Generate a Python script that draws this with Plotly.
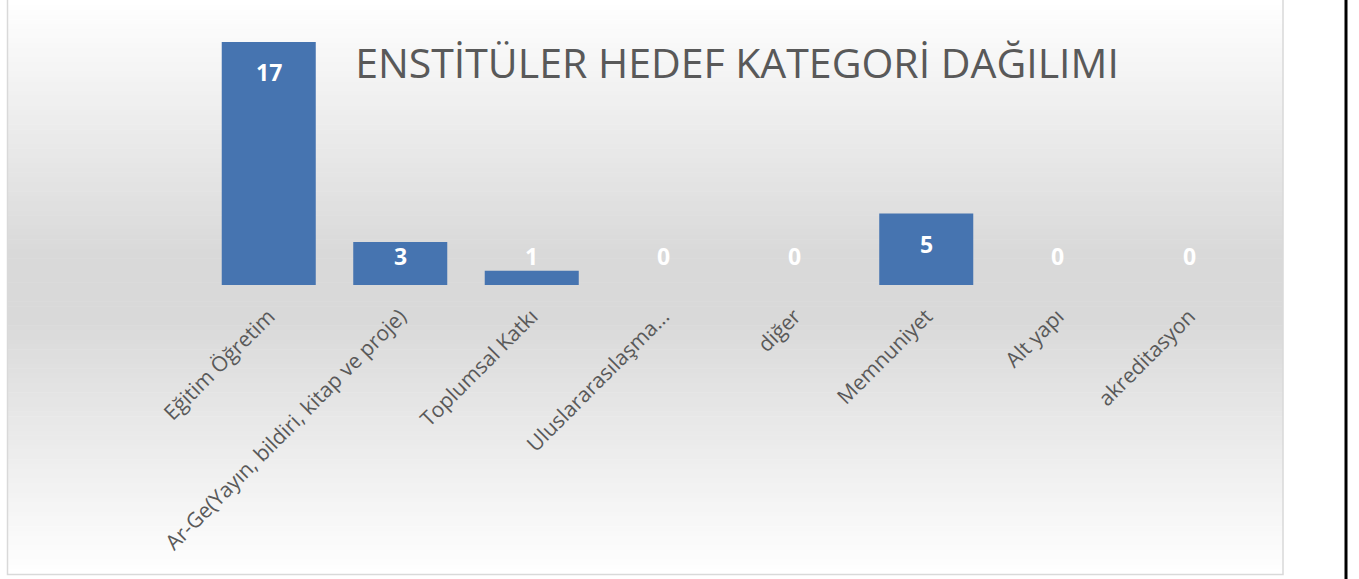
import plotly.graph_objects as go

categories = ["Eğitim Öğretim", "Ar-Ge(Yayın, bildiri, kitap ve proje)", "Toplumsal Katkı",
              "Uluslararasılaşma...", "diğer", "Memnuniyet", "Alt yapı", "akreditasyon"]
values = [17, 3, 1, 0, 0, 5, 0, 0]
title_text = "ENSTİTÜLER HEDEF KATEGORİ DAĞILIMI"

W, H = 1359, 579
ML, MR, MT, MB = 203, 104, 42, 294
PW, PH = W - ML - MR, H - MT - MB
YMAX = 17

def px_x(p):
    return (p - ML) / PW

def px_y(p):
    return 1 - (p - MT) / PH

fig = go.Figure()
fig.add_trace(go.Bar(x=categories, y=values, marker=dict(color="#4674b0", line=dict(width=0)),
                     width=0.715, hoverinfo="x+y"))

shapes = []
# background gradient (white -> gray -> white)
top, bot = 0, 574
N = 120
def grad(t):
    if t < 0.44:
        f = t / 0.44
    elif t > 0.56:
        f = (1 - t) / 0.44
    else:
        f = 1
    v = round(255 - (255 - 217) * f)
    return f"rgb({v},{v},{v})"
for i in range(N):
    y0 = top + (bot - top) * i / N
    y1 = top + (bot - top) * (i + 1) / N
    shapes.append(dict(type="rect", xref="paper", yref="paper", layer="below",
                       x0=px_x(7), x1=px_x(1283), y0=px_y(y0), y1=px_y(y1 + 0.5),
                       fillcolor=grad((i + 0.5) / N), line=dict(width=0)))
# chart border
shapes.append(dict(type="rect", xref="paper", yref="paper", layer="below",
                   x0=px_x(7.5), x1=px_x(1283), y0=px_y(-2), y1=px_y(574.5),
                   fillcolor="rgba(0,0,0,0)", line=dict(color="#d9d9d9", width=1.5)))
# black vertical line at right
shapes.append(dict(type="line", xref="paper", yref="paper", layer="above",
                   x0=px_x(1346), x1=px_x(1346), y0=px_y(-2), y1=px_y(H + 2),
                   line=dict(color="black", width=3)))

annotations = []
px_per_unit = PH / YMAX
for c, v in zip(categories, values):
    top_px = v * px_per_unit
    shift = -30 if top_px - 30 > 29 else 29 - top_px
    annotations.append(dict(x=c, y=v, xref="x", yref="y", text=f"<b>{v}</b>", showarrow=False,
                            yshift=shift, yanchor="middle",
                            font=dict(family="Open Sans", size=23, color="white")))

fig.update_layout(
    width=W, height=H, autosize=False,
    margin=dict(l=ML, r=MR, t=MT, b=MB, pad=0),
    paper_bgcolor="white", plot_bgcolor="rgba(0,0,0,0)",
    showlegend=False,
    bargap=0.285,
    title=dict(text=title_text, x=737 / W, xanchor="center", y=1 - 64 / H, yanchor="middle",
               xref="container", yref="container",
               font=dict(family="Open Sans", size=41, color="#595959")),
    xaxis=dict(showgrid=False, showline=False, zeroline=False, ticks="", tickangle=-45,
               ticklabelstandoff=14,
               tickfont=dict(family="Open Sans", size=21, color="#595959"), fixedrange=True),
    yaxis=dict(range=[0, YMAX], visible=False, showgrid=False, zeroline=False, fixedrange=True),
    shapes=shapes,
    annotations=annotations,
)

fig.write_html("out.html", post_script="document.body.style.margin='0';",
               config=dict(displayModeBar=False))
